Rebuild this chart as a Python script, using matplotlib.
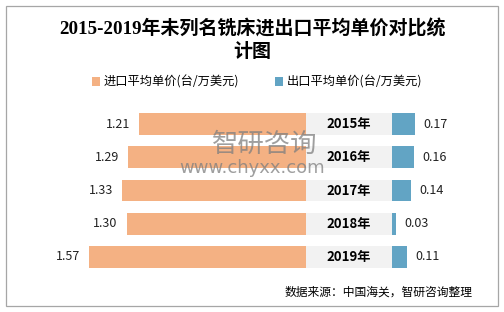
import matplotlib
matplotlib.use("Agg")
import matplotlib.pyplot as plt
from matplotlib.patches import Rectangle

plt.rcParams['font.family'] = ['Noto Sans CJK SC', 'DejaVu Sans']

years = ["2015年", "2016年", "2017年", "2018年", "2019年"]
import_vals = [1.21, 1.29, 1.33, 1.30, 1.57]
export_vals = [0.17, 0.16, 0.14, 0.03, 0.11]
import_label = "进口平均单价(台/万美元)"
export_label = "出口平均单价(台/万美元)"
title_line1 = "2015-2019年未列名铣床进出口平均单价对比统"
title_line2 = "计图"
source = "数据来源：中国海关，智研咨询整理"

c_imp = "#F4B183"
c_exp = "#62A4C4"
c_band = "#F2F2F2"

W, H = 504, 312
fig = plt.figure(figsize=(W / 100, H / 100), dpi=100)
fig.patch.set_facecolor("white")

# outer border
fig.add_artist(Rectangle((6 / W, 6 / H), 492 / W, 300 / H, transform=fig.transFigure,
                         fill=False, edgecolor="#A6A6A6", lw=0.9))

ppu = 138.0  # pixels per unit
band = 86 / ppu
x0 = 306
ax_left, ax_right = 6, 498
ax_top, ax_bot = 107.4, 273.6
ax = fig.add_axes([ax_left / W, (H - ax_bot) / H, (ax_right - ax_left) / W, (ax_bot - ax_top) / H])
ax.set_xlim((ax_left - x0) / ppu, (ax_right - x0) / ppu)
ax.set_ylim(len(years) - 0.5, -0.5)
ax.axis("off")

ypos = list(range(len(years)))
h = 0.66
ax.barh(ypos, [-v for v in import_vals], height=h, color=c_imp, label=import_label)
ax.barh(ypos, [band] * len(years), height=h, color=c_band)
ax.barh(ypos, export_vals, left=band, height=h, color=c_exp, label=export_label)

for i, (yr, vi, ve) in enumerate(zip(years, import_vals, export_vals)):
    ax.annotate(f"{vi:.2f}", (-vi, i), xytext=(-6.5, 0), textcoords="offset points",
                ha="right", va="center", fontsize=9, color="#222222")
    ax.annotate(f"{ve:.2f}", (band + ve, i), xytext=(6, 0), textcoords="offset points",
                ha="left", va="center", fontsize=9, color="#222222")
    ax.text(band / 2, i, yr, ha="center", va="center", fontsize=9.5, fontweight="bold", color="black")

# watermark
fig.text(265 / W, 1 - 144 / H, "智研咨询", fontsize=19, color="#7F7F7F", alpha=0.75,
         ha="center", va="center")
fig.text(252 / W, 1 - 168 / H, "www.chyxx.com", fontsize=13, color="#7F7F7F", alpha=0.75,
         ha="center", va="center", family=["DejaVu Sans"])

# title
tfam = ["Liberation Serif", "Noto Sans CJK SC"]
fig.text(253 / W, 1 - 29 / H, title_line1, fontsize=13.7, fontweight="bold", family=tfam,
         ha="center", va="center", color="black")
fig.text(252 / W, 1 - 52 / H, title_line2, fontsize=13.7, fontweight="bold", family=tfam,
         ha="center", va="center", color="black")

# legend
fig.legend(handles=ax.get_legend_handles_labels()[0], labels=[import_label, export_label],
           loc="center", bbox_to_anchor=(257 / W, 1 - 82 / H), ncol=2, frameon=False,
           fontsize=8.8, handlelength=0.7, handleheight=0.7, handletextpad=0.3, columnspacing=2.9)

fig.text(473 / W, 1 - 292 / H, source, fontsize=8.5, ha="right", va="center", color="black")

fig.savefig("out.png", dpi=100)
